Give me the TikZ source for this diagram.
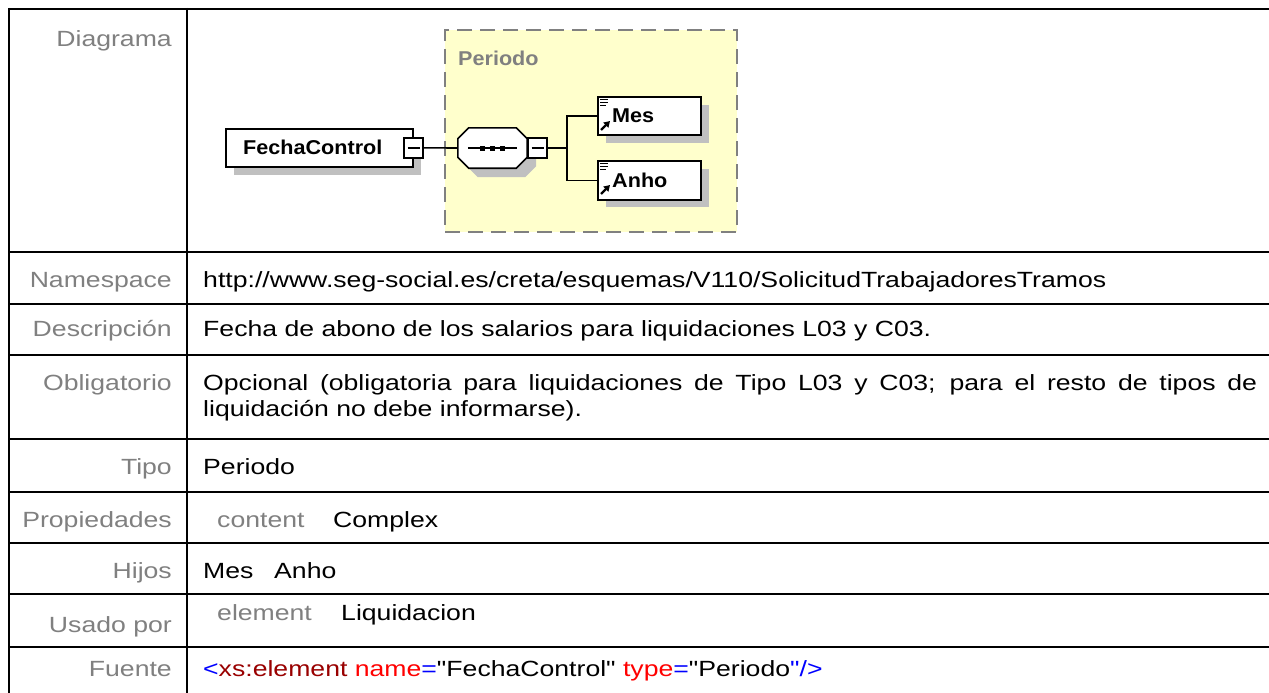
\documentclass[tikz,border=0pt]{standalone}
\usepackage{fontspec}
\setmainfont{Liberation Sans}[FakeStretch=1.21, Ligatures=TeXOff]
\newfontfamily\diagfont{Liberation Sans}[FakeStretch=1.08]
\usetikzlibrary{arrows.meta}
\definecolor{lblgray}{RGB}{128,128,128}
\definecolor{dashgray}{RGB}{128,128,128}
\definecolor{ybg}{RGB}{255,255,204}
\definecolor{shadowgray}{RGB}{192,192,192}
\definecolor{xmlblue}{RGB}{0,0,255}
\definecolor{xmlmaroon}{RGB}{153,0,0}
\definecolor{xmlred}{RGB}{255,0,0}
\tikzset{
  tbl/.style={line width=2pt, black},
  lbl/.style={anchor=base east, inner sep=0pt, text=lblgray, font=\fontsize{22}{26}\selectfont},
  val/.style={anchor=base west, inner sep=0pt, text=black, font=\fontsize{22}{26}\selectfont},
  pval/.style={anchor=base west, inner sep=0pt, text=lblgray, font=\fontsize{22}{26}\selectfont},
  elbox/.style={draw, fill=white, line width=1.7pt, inner sep=0pt, anchor=north west},
  eltext/.style={anchor=west, inner sep=0pt, font=\diagfont\bfseries\fontsize{20}{22}\selectfont},
  shadow/.style={fill=shadowgray},
  conn/.style={line width=1.6pt},
  minusbox/.style={draw, fill=white, line width=1.6pt, minimum width=19pt, minimum height=20pt, inner sep=0pt,
    path picture={\draw[line width=1.4pt] ([xshift=3.5pt]path picture bounding box.west) -- ([xshift=-3.5pt]path picture bounding box.east);}},
}
\begin{document}
\begin{tikzpicture}[x=1pt,y=-1pt]
\useasboundingbox[fill=white] (0,0) rectangle (1269,693);

% ---------- table ----------
\draw[tbl] (9,9) -- (1269,9);
\draw[tbl] (9,8) -- (9,693);
\draw[tbl] (187,8) -- (187,693);
\foreach \yy in {252,304,355,439,492,543,594,647}
  \draw[tbl] (8,\yy) -- (1269,\yy);

% labels
\node[lbl] (lDiag) at (172,47) {Diagrama};
\node[lbl] (lNs) at (172,287) {Namespace};
\node[lbl] (lDesc) at (172,336) {Descripción};
\node[lbl] (lObl) at (172,390) {Obligatorio};
\node[lbl] (lTipo) at (172,474) {Tipo};
\node[lbl] (lProp) at (172,527) {Propiedades};
\node[lbl] (lHijos) at (172,578) {Hijos};
\node[lbl] (lUsado) at (172,632) {Usado por};
\node[lbl] (lFuente) at (172,676) {Fuente};

% values
\node[val] (vNs) at (203,287) {http://www.seg-social.es/creta/esquemas/V110/SolicitudTrabajadoresTramos};
\node[val] (vDesc) at (203,336) {Fecha de abono de los salarios para liquidaciones L03 y C03.};
\node[val] (vObl1) at (203,390) {\makebox[1054pt][s]{Opcional (obligatoria para liquidaciones de Tipo L03 y C03; para el resto de tipos de}};
\node[val] (vObl2) at (203,416) {liquidación no debe informarse).};
\node[val] (vTipo) at (203,474) {Periodo};
\node[pval] (vPropK) at (217,527) {content};
\node[val] (vPropV) at (333,527) {Complex};
\node[val] (vMes) at (203,578) {Mes};
\node[val] (vAnho) at (274,578) {Anho};
\node[pval] (vUsK) at (217,620) {element};
\node[val] (vUsV) at (341,620) {Liquidacion};
\node[val] (vSrc) at (203,676) {\textcolor{xmlblue}{<}\textcolor{xmlmaroon}{xs:element} \textcolor{xmlred}{name}\textcolor{xmlblue}{=}"FechaControl" \textcolor{xmlred}{type}\textcolor{xmlblue}{=}"Periodo\textcolor{xmlblue}{"/>}};

% ---------- diagram ----------
\node[draw=dashgray, fill=ybg, line width=2pt, dash pattern=on 15pt off 8pt,
      minimum width=292pt, minimum height=202pt, inner sep=0pt, anchor=north west] (per) at (444,29) {};
\node[anchor=base west, inner sep=0pt, text=lblgray, font=\diagfont\bfseries\fontsize{20}{22}\selectfont] (perlbl) at (458,66) {Periodo};

% FechaControl
\fill[shadow] (234,137) rectangle (421,175);
\node[elbox, minimum width=187pt, minimum height=38pt] (fc) at (225,128) {};
\node[eltext] (fctext) at (243,147) {FechaControl};
\node[minusbox] (fcm) at (fc.east) {};

% sequence octagon
\node[inner sep=0pt, minimum width=69pt, minimum height=40pt] (seq) at (492.5,148) {};
\fill[shadow] ([shift={(20pt,-9pt)}]seq.north west) -- ([shift={(-2pt,-9pt)}]seq.north east) -- ([shift={(9pt,-20pt)}]seq.north east)
  -- ([shift={(9pt,2pt)}]seq.south east) -- ([shift={(-2pt,-9pt)}]seq.south east) -- ([shift={(20pt,-9pt)}]seq.south west)
  -- ([shift={(9pt,2pt)}]seq.south west) -- ([shift={(9pt,-20pt)}]seq.north west) -- cycle;
\draw[conn, fill=white] ([xshift=11pt]seq.north west) -- ([xshift=-11pt]seq.north east) -- ([yshift=-11pt]seq.north east)
  -- ([yshift=11pt]seq.south east) -- ([xshift=-11pt]seq.south east) -- ([xshift=11pt]seq.south west)
  -- ([yshift=11pt]seq.south west) -- ([yshift=-11pt]seq.north west) -- cycle;
\draw[conn] ([xshift=10pt]seq.west) -- ([xshift=-10pt]seq.east);
\foreach \xx in {-10,0,10}
  \fill ([xshift=\xx pt]seq.center) ++(-2.5pt,-2.5pt) rectangle ++(5pt,5pt);
\node[minusbox] (seqm) at (537.5,148) {};

% children
\fill[shadow] (606,105) rectangle (709,143);
\node[elbox, minimum width=103pt, minimum height=38pt] (mes) at (597,96) {};
\node[eltext] (mestext) at (612,116) {Mes};
\fill[shadow] (606,169) rectangle (709,207);
\node[elbox, minimum width=103pt, minimum height=39pt] (anho) at (597,160) {};
\node[eltext] (anhotext) at (612,180.5) {Anho};

% icons
\foreach \bx/\by in {597/96, 597/160} {
  \draw[line width=1.2pt] (\bx+3,\by+3.5) -- (\bx+11,\by+3.5);
  \draw[line width=1.2pt] (\bx+3,\by+6.5) -- (\bx+11,\by+6.5);
  \draw[line width=1.2pt] (\bx+3,\by+9.5) -- (\bx+9,\by+9.5);
  \draw[line width=2.2pt, -{Triangle[length=6pt,width=7pt]}] (\bx+4,\by+34) -- (\bx+13,\by+25);
}

% connectors
\coordinate (br) at (567,148);
\draw[conn] (fcm.east) -- (seq.west);
\draw[conn] (seqm.east) -- (br);
\draw[conn] (mes.west) -| (br) |- (anho.west);
\end{tikzpicture}
\end{document}
